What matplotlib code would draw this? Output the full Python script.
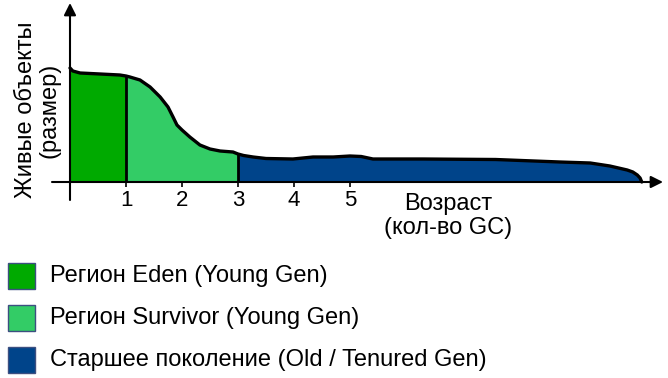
import matplotlib.pyplot as plt
from matplotlib.patches import Rectangle
import numpy as np

plt.rcParams['font.family'] = ['Liberation Sans', 'DejaVu Sans']

# age (GC count) vs live objects size
age = [0.0, 0.05, 0.18, 0.54, 0.89, 1.0, 1.07, 1.25, 1.43, 1.61, 1.75, 1.84, 1.91,
       2.0, 2.14, 2.32, 2.5, 2.68, 2.91, 3.0, 3.1, 3.27, 3.5, 3.98, 4.34, 4.7,
       5.0, 5.2, 5.41, 6.3, 7.6, 8.75, 9.29, 9.64, 9.95, 10.05, 10.13, 10.18, 10.21]
live = [11.4, 11.1, 10.9, 10.8, 10.7, 10.6, 10.5, 10.2, 9.5, 8.5, 7.5, 6.5, 5.7,
        5.2, 4.5, 3.7, 3.3, 3.1, 3.0, 2.8, 2.65, 2.5, 2.35, 2.3, 2.5, 2.5,
        2.6, 2.55, 2.3, 2.3, 2.25, 2.0, 1.9, 1.6, 1.2, 1.0, 0.7, 0.4, 0.0]
ticks = [1, 2, 3, 4, 5]
eden_end = 1.0
surv_end = 3.0

regions = ["Регион Eden (Young Gen)",
           "Регион Survivor (Young Gen)",
           "Старшее поколение (Old / Tenured Gen)"]
colors = ["#00aa00", "#33cc66", "#00448a"]

age = np.array(age)
live = np.array(live)

W, H = 668, 378
fig = plt.figure(figsize=(W / 100, H / 100), dpi=100)
ax = fig.add_axes([0, 0, 1, 1])
# 56 px per GC, 10 px per size unit, origin at (70, 182) px
ax.set_xlim(-70 / 56, (W - 70) / 56)
ax.set_ylim(-(H - 182) / 10, 182 / 10)
ax.axis('off')

m1 = age <= eden_end
m2 = (age >= eden_end) & (age <= surv_end)
m3 = age >= surv_end
ax.fill_between(age[m1], 0, live[m1], color=colors[0], lw=0)
ax.fill_between(age[m2], 0, live[m2], color=colors[1], lw=0)
ax.fill_between(age[m3], 0, live[m3], color=colors[2], lw=0)
ax.plot(age, live, color='black', lw=2.4, solid_capstyle='round', solid_joinstyle='round')
ax.vlines([eden_end, surv_end], 0, [np.interp(eden_end, age, live), np.interp(surv_end, age, live)],
          color='black', lw=2)

# axes with arrows
ax.annotate('', xy=(593 / 56, 0), xytext=(-18 / 56, 0),
            arrowprops=dict(arrowstyle='-|>', color='black', lw=1.5, mutation_scale=18,
                            shrinkA=0, shrinkB=0))
ax.annotate('', xy=(0, 17.9), xytext=(0, -1.8),
            arrowprops=dict(arrowstyle='-|>', color='black', lw=1.5, mutation_scale=18,
                            shrinkA=0, shrinkB=0))
ax.vlines(ticks, -0.5, 0, color='black', lw=1.2)
for t in ticks:
    ax.text(t, -1.9, str(t), ha='center', va='center', fontsize=16)

ax.text(6.75, -3.4, "Возраст\n(кол-во GC)", ha='center', va='center', fontsize=17,
        linespacing=1.15)
ax.text(-0.57, 7.2, "Живые объекты\n(размер)", ha='center', va='center', fontsize=17,
        rotation=90, linespacing=1.1)

# legend
rows_y = [276, 318, 360]
for lab, c, yc in zip(regions, colors, rows_y):
    ax.add_patch(Rectangle((8 / W, 1 - (yc + 13) / H), 27 / W, 26 / H, transform=ax.transAxes,
                           facecolor=c, edgecolor='#3d4f80', lw=1))
    ax.text(50 / W, 1 - yc / H, lab, transform=ax.transAxes, ha='left', va='center', fontsize=17)

fig.savefig('out.png', dpi=100)
